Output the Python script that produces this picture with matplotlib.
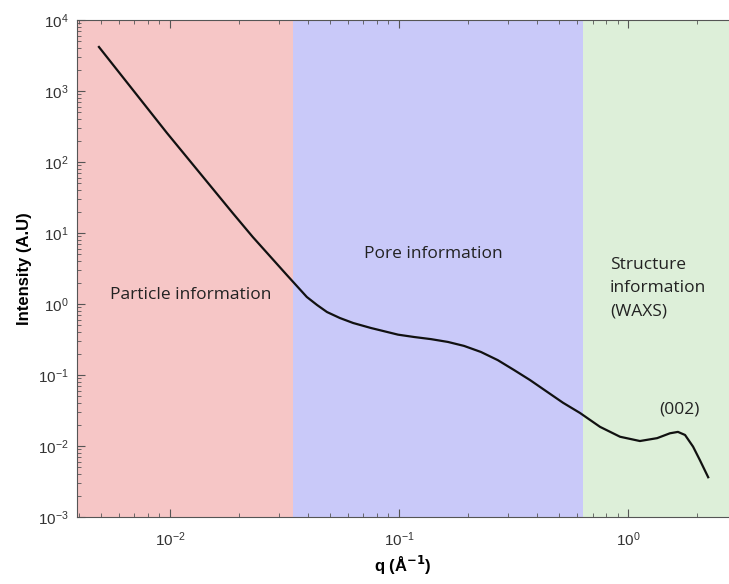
import matplotlib.pyplot as plt
from matplotlib.ticker import LogLocator, NullFormatter

# scattering curve (q in 1/A, intensity in A.U)
q = [0.0049, 0.0097, 0.0188, 0.0230, 0.0324, 0.0396, 0.0439, 0.0485, 0.0552,
     0.0631, 0.0755, 0.0991, 0.1164, 0.138, 0.1637, 0.1923,
     0.228, 0.270, 0.318, 0.373, 0.445, 0.520, 0.617, 0.755, 0.923, 1.127,
     1.340, 1.524, 1.652, 1.774, 1.923, 2.061, 2.239]
intensity = [4170, 257, 19.1, 8.79, 2.56, 1.256, 0.968, 0.771, 0.635,
             0.540, 0.459, 0.370, 0.343, 0.320, 0.292, 0.257,
             0.211, 0.162, 0.1175, 0.0851, 0.0575, 0.0407, 0.0292, 0.0186, 0.0135, 0.01175,
             0.0129, 0.0151, 0.0158, 0.0143, 0.0098, 0.0063, 0.00363]

# q ranges of the three regions
region_edges = [0.00393, 0.0344, 0.635, 2.76]
region_colors = ["#f6c6c6", "#c9c9f9", "#ddefd9"]
region_labels = ["Particle information", "Pore information", "Structure\ninformation\n(WAXS)"]

XLIM = (region_edges[0], region_edges[-1])
YLIM = (1e-3, 1e4)

fig = plt.figure(figsize=(7.29, 5.84), dpi=100)
ax = fig.add_axes([77 / 729, 67 / 584, 1 - 77 / 729, (517 - 20) / 584])

for lo, hi, c in zip(region_edges[:-1], region_edges[1:], region_colors):
    ax.axvspan(lo, hi, color=c, lw=0, zorder=0)

ax.plot(q, intensity, color="#111111", lw=1.6, zorder=3, solid_joinstyle="round")

ax.set_xscale("log")
ax.set_yscale("log")
ax.set_xlim(*XLIM)
ax.set_ylim(*YLIM)

ax.xaxis.set_major_locator(LogLocator(base=10, numticks=10))
ax.yaxis.set_major_locator(LogLocator(base=10, numticks=10))
ax.xaxis.set_minor_locator(LogLocator(base=10, subs=range(2, 10), numticks=20))
ax.yaxis.set_minor_locator(LogLocator(base=10, subs=range(2, 10), numticks=20))
ax.yaxis.set_minor_formatter(NullFormatter())
ax.xaxis.set_minor_formatter(NullFormatter())

ax.tick_params(which="both", direction="in", top=True, right=False, color="#555555")
ax.tick_params(which="major", length=6, labelsize=11, labelcolor="#333333")
ax.tick_params(axis="x", which="major", pad=10)
ax.tick_params(axis="y", which="major", pad=6)
ax.tick_params(which="minor", length=3)
for lab in ax.get_xticklabels() + ax.get_yticklabels():
    lab.set_family("Liberation Sans")

for side in ("left", "bottom", "top"):
    ax.spines[side].set_color("#555555")
    ax.spines[side].set_linewidth(0.8)
ax.spines["right"].set_visible(False)

ax.set_ylabel("Intensity (A.U)", fontsize=12, fontweight="bold", family="Liberation Sans", labelpad=4)
ax.set_xlabel(r"q (Å$^{\mathbf{-1}}$)", fontsize=12, fontweight="bold", family="Liberation Sans", labelpad=3)

note_font = dict(family="Open Sans", fontsize=12.5, color="#222222")
ax.text(0.0123, 10 ** 0.12, region_labels[0], ha="center", va="center", **note_font)
ax.text(0.0703, 10 ** 0.70, region_labels[1], ha="left", va="center", **note_font)
ax.text(0.834, 10 ** 0.66, region_labels[2], ha="left", va="top", linespacing=1.6, **note_font)
ax.text(1.37, 10 ** -1.48, "(002)", ha="left", va="center", **note_font)

fig.savefig("out.png", dpi=100)
